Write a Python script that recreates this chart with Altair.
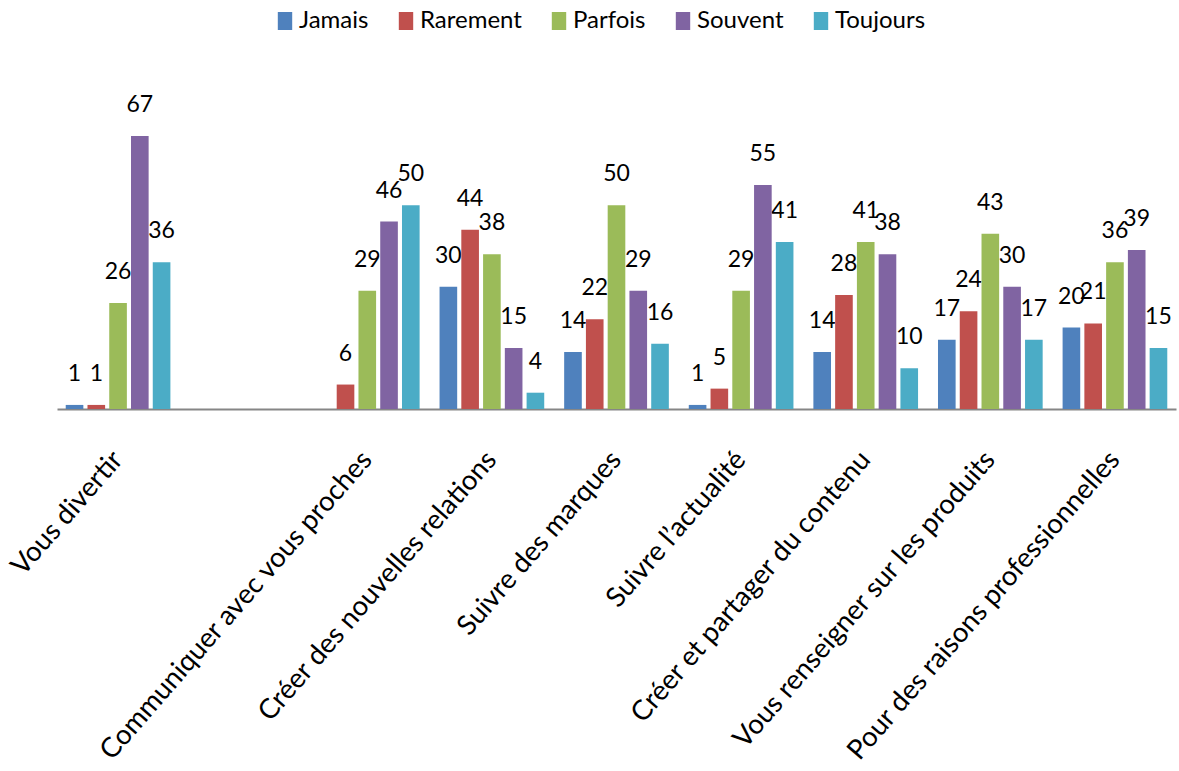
import altair as alt
import pandas as pd

categories = [
    "Vous divertir",
    " ",
    "Communiquer avec vous proches",
    "Créer des nouvelles relations",
    "Suivre des marques",
    "Suivre l\u2019actualité",
    "Créer et partager du contenu",
    "Vous renseigner sur les produits",
    "Pour des raisons professionnelles",
]
series = ["Jamais", "Rarement", "Parfois", "Souvent", "Toujours"]
colors = ["#4F81BD", "#C0504D", "#9BBB59", "#8064A2", "#4BACC6"]

jamais = [1, None, None, 30, 14, 1, 14, 17, 20]
rarement = [1, None, 6, 44, 22, 5, 28, 24, 21]
parfois = [26, None, 29, 38, 50, 29, 41, 43, 36]
souvent = [67, None, 46, 15, 29, 55, 38, 30, 39]
toujours = [36, None, 50, 4, 16, 41, 10, 17, 15]

values = [jamais, rarement, parfois, souvent, toujours]
rows = []
for s, vals in zip(series, values):
    for c, v in zip(categories, vals):
        if v is not None:
            rows.append({"cat": c, "series": s, "value": v})
df = pd.DataFrame(rows)

FONT = "Lato"

x = alt.X(
    "cat:N",
    scale=alt.Scale(domain=categories, paddingInner=0.16, paddingOuter=0.07),
    axis=alt.Axis(
        title=None,
        labelAngle=-49,
        labelFont=FONT,
        labelFontSize=27.5,
        labelColor="#000000",
        ticks=False,
        domainColor="#868686",
        domainWidth=2,
        labelPadding=46,
        labelLimit=700,
    ),
)
xo = alt.XOffset(
    "series:N", sort=series, scale=alt.Scale(domain=series, paddingInner=0.19, paddingOuter=0)
)
y = alt.Y("value:Q", scale=alt.Scale(domain=[0, 80]), axis=None)

base = alt.Chart(df).encode(x=x, xOffset=xo, y=y)

text = base.mark_text(
    dy=-24, baseline="alphabetic", font=FONT, fontSize=23, color="#000000"
).encode(text=alt.Text("value:Q"))

bars = base.mark_bar().encode(
    color=alt.Color(
        "series:N",
        sort=series,
        scale=alt.Scale(domain=series, range=colors),
        legend=alt.Legend(
            title=None,
            orient="none",
            direction="horizontal",
            legendX=216,
            legendY=-74,
            labelFont=FONT,
            labelFontSize=24,
            labelColor="#000000",
            symbolType="M-0.8,-1L0.8,-1L0.8,1L-0.8,1Z",
            symbolSize=324,
            symbolStrokeWidth=0,
            columnPadding=25,
            labelOffset=2,
        ),
    )
)

chart = (
    alt.layer(text, bars)
    .properties(
        width=1119,
        height=326,
        padding={"left": 57, "top": 83, "right": 3, "bottom": 362},
        autosize=alt.AutoSizeParams(type="none"),
        background="white",
    )
    .configure_view(stroke=None)
)

chart.save("out.html", embed_options={"renderer": "svg", "actions": False})
